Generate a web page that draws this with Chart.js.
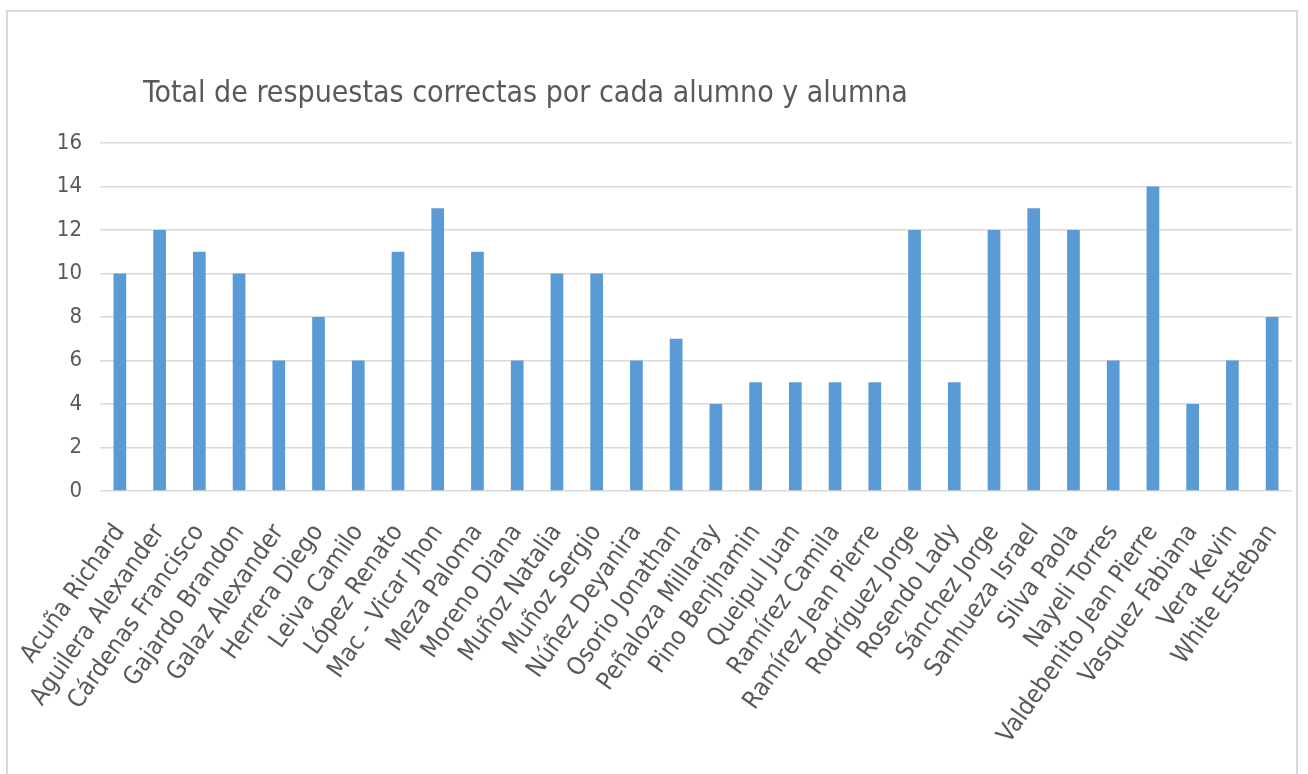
<!DOCTYPE html>
<html>
<head>
<meta charset="utf-8">
<script src="https://cdn.jsdelivr.net/npm/chart.js@4"></script>
<style>
  html, body { margin: 0; padding: 0; background: #ffffff; width: 1308px; height: 774px; overflow: hidden; }
  #frame { position: absolute; left: 6px; top: 10px; width: 1292px; height: 790px; border: 2px solid #d9d9d9; box-sizing: border-box; }
  #wrap { position: absolute; left: 0; top: 0; width: 1308px; height: 774px; }
</style>
</head>
<body>
<div id="frame"></div>
<div id="wrap"><canvas id="c" width="1308" height="774"></canvas></div>
<script>
const chartTitle = "Total de respuestas correctas por cada alumno y alumna";
const students = [
  "Acuña Richard", "Aguilera Alexander", "Cárdenas Francisco", "Gajardo Brandon",
  "Galaz Alexander", "Herrera Diego", "Leiva Camilo", "López Renato",
  "Mac - Vicar Jhon", "Meza Paloma", "Moreno Diana", "Muñoz Natalia",
  "Muñoz Sergio", "Núñez Deyanira", "Osorio Jonathan", "Peñaloza Millaray",
  "Pino Benjhamin", "Queipul Juan", "Ramírez Camila", "Ramírez Jean Pierre",
  "Rodríguez Jorge", "Rosendo Lady", "Sánchez Jorge", "Sanhueza Israel",
  "Silva Paola", "Nayeli Torres", "Valdebenito Jean Pierre", "Vasquez Fabiana",
  "Vera Kevin", "White Esteban"
];
const correctAnswers = [
  10, 12, 11, 10, 6, 8, 6, 11, 13, 11,
  6, 10, 10, 6, 7, 4, 5, 5, 5, 5,
  12, 5, 12, 13, 12, 6, 14, 4, 6, 8
];
const yTicks = [0, 2, 4, 6, 8, 10, 12, 14, 16];

const FONT = "'Liberation Sans Narrow', 'DejaVu Sans Condensed', 'Liberation Sans', sans-serif";
const TEXT = "#595959";

const titlePlugin = {
  id: 'customTitle',
  afterDraw(chart) {
    const ctx = chart.ctx;
    ctx.save();
    ctx.font = "30px " + FONT;
    ctx.fillStyle = TEXT;
    ctx.textAlign = "left";
    ctx.textBaseline = "alphabetic";
    ctx.fillText(chartTitle, 143, 102);
    ctx.restore();
  }
};

new Chart(document.getElementById('c'), {
  type: 'bar',
  data: {
    labels: students,
    datasets: [{
      label: 'Respuestas correctas',
      data: correctAnswers,
      backgroundColor: '#5b9bd5',
      borderWidth: 0,
      categoryPercentage: 1.0,
      barPercentage: 0.32
    }]
  },
  options: {
    responsive: false,
    animation: false,
    devicePixelRatio: 1,
    layout: { padding: { top: 143, left: 20, right: 16, bottom: 0 } },
    plugins: {
      legend: { display: false },
      title: { display: false },
      tooltip: { enabled: false }
    },
    scales: {
      x: {
        offset: true,
        grid: { display: false, drawTicks: false },
        border: { display: false },
        ticks: {
          autoSkip: false,
          minRotation: 55,
          maxRotation: 55,
          padding: 28,
          color: TEXT,
          font: { family: FONT, size: 25 }
        },
        afterFit(scale) {
          scale.height = 283;
          scale.paddingLeft = 0;
          scale.paddingRight = 0;
        }
      },
      y: {
        min: 0,
        max: 16,
        afterBuildTicks(scale) { scale.ticks = yTicks.map(v => ({ value: v })); },
        grid: { color: '#d9d9d9', lineWidth: 1.5, drawTicks: false },
        border: { display: false },
        ticks: {
          padding: 18,
          color: TEXT,
          font: { family: FONT, size: 22 }
        },
        afterFit(scale) {
          scale.width = 80;
          scale.paddingTop = 0;
          scale.paddingBottom = 0;
        }
      }
    }
  },
  plugins: [titlePlugin]
});
</script>
</body>
</html>
